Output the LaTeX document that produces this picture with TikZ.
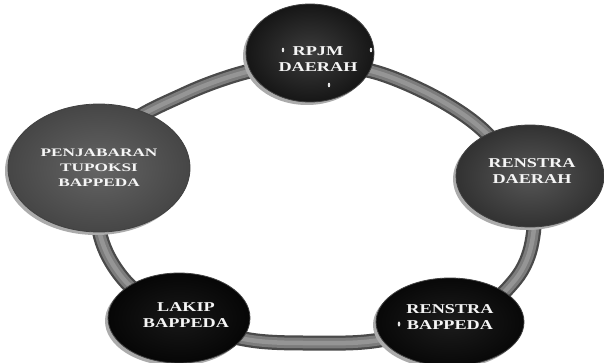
\documentclass[tikz,border=0pt]{standalone}
\usepackage{fontspec}
\usetikzlibrary{shapes.geometric}
\newfontfamily\lblfont{Liberation Serif}[FakeStretch=1.35]
\newfontfamily\pjfont{Liberation Serif}[FakeStretch=1.5]
\definecolor{ringedge}{HTML}{4A4A4A}
\definecolor{ringmid}{HTML}{7C7C7C}
\definecolor{ringhi}{HTML}{959595}
\definecolor{rimc}{HTML}{ABABAB}
\begin{document}
\begin{tikzpicture}[x=1pt,y=1pt,
  btn/.style={ellipse, inner sep=0pt, draw=black!75, line width=0.8pt, shade},
  lbl/.style={font=\lblfont\bfseries\fontsize{13.5}{16.5}\selectfont, text=white!96!black, align=center, inner sep=0pt},
  ringline/.style={line join=round, line cap=round},
  drop/.style={fill=white!90!black}
]
\useasboundingbox[fill=white] (0,0) rectangle (604,362);
% ring waypoints
\coordinate (w1) at (120,230);
\coordinate (w2) at (185,268);
\coordinate (w3) at (250,291);
\coordinate (w4) at (310,298);
\coordinate (w5) at (375,290);
\coordinate (w6) at (440,262);
\coordinate (w7) at (490,225);
\coordinate (w8) at (530,165);
\coordinate (w9) at (532,120);
\coordinate (w10) at (515,82);
\coordinate (w11) at (470,45);
\coordinate (w12) at (380,22);
\coordinate (w13) at (315,19);
\coordinate (w14) at (250,22);
\coordinate (w15) at (185,40);
\coordinate (w16) at (132,74);
\coordinate (w17) at (104,115);
\coordinate (w18) at (98,162);
\foreach \c/\w in {ringedge/15, ringmid/10.5, ringhi/4.5}{
  \draw[ringline, color=\c, line width=\w pt] plot[smooth cycle, tension=0.55] coordinates
   {(w1) (w2) (w3) (w4) (w5) (w6) (w7) (w8) (w9) (w10) (w11) (w12) (w13) (w14) (w15) (w16) (w17) (w18)};
}
% button centres
\coordinate (c-rpjm) at (310,309);
\coordinate (c-rd) at (530,186);
\coordinate (c-pj) at (99,194);
\coordinate (c-lk) at (179,44);
\coordinate (c-rb) at (450,40);
% rims (light crescent at lower left)
\fill[rimc] ([shift={(-3,-3)}]c-rpjm) ellipse [x radius=64, y radius=49];
\fill[rimc] ([shift={(-3,-3)}]c-rd) ellipse [x radius=74, y radius=51];
\fill[rimc] ([shift={(-3,-3)}]c-pj) ellipse [x radius=91, y radius=64];
\fill[rimc] ([shift={(-3,-3)}]c-lk) ellipse [x radius=71, y radius=45];
\fill[rimc] ([shift={(-3,-3)}]c-rb) ellipse [x radius=74, y radius=44];
% buttons
\node[btn, minimum width=128, minimum height=98, inner color={rgb,255:red,60;green,60;blue,60}, outer color={rgb,255:red,22;green,22;blue,22}] (rpjm) at (c-rpjm) {};
\node[btn, minimum width=148, minimum height=102, inner color={rgb,255:red,86;green,86;blue,86}, outer color={rgb,255:red,50;green,50;blue,50}] (rd) at (c-rd) {};
\node[btn, minimum width=182, minimum height=128, inner color={rgb,255:red,100;green,100;blue,100}, outer color={rgb,255:red,70;green,70;blue,70}] (pj) at (c-pj) {};
\node[btn, minimum width=142, minimum height=90, inner color={rgb,255:red,24;green,24;blue,24}, outer color={rgb,255:red,6;green,6;blue,6}] (lk) at (c-lk) {};
\node[btn, minimum width=148, minimum height=88, inner color={rgb,255:red,28;green,28;blue,28}, outer color={rgb,255:red,8;green,8;blue,8}] (rb) at (c-rb) {};
% labels
\node[lbl] (rpjm-t) at (318,303) {RPJM\\DAERAH};
\node[lbl] (rd-t) at (532,191) {RENSTRA\\DAERAH};
\node[lbl, font=\pjfont\bfseries\fontsize{11.5}{15}\selectfont] (pj-t) at (99,194) {PENJABARAN\\TUPOKSI\\BAPPEDA};
\node[lbl] (lk-t) at (186,47) {LAKIP\\BAPPEDA};
\node[lbl] (rb-t) at (450,45) {RENSTRA\\BAPPEDA};
% small glints
\fill[drop] (283,312) ellipse (1.2 and 2.4);
\fill[drop] (371,312) ellipse (1.2 and 2.4);
\fill[drop] (329,277) ellipse (1.2 and 2.4);
\fill[drop] (399,38) ellipse (1.3 and 2.6);
\end{tikzpicture}
\end{document}
